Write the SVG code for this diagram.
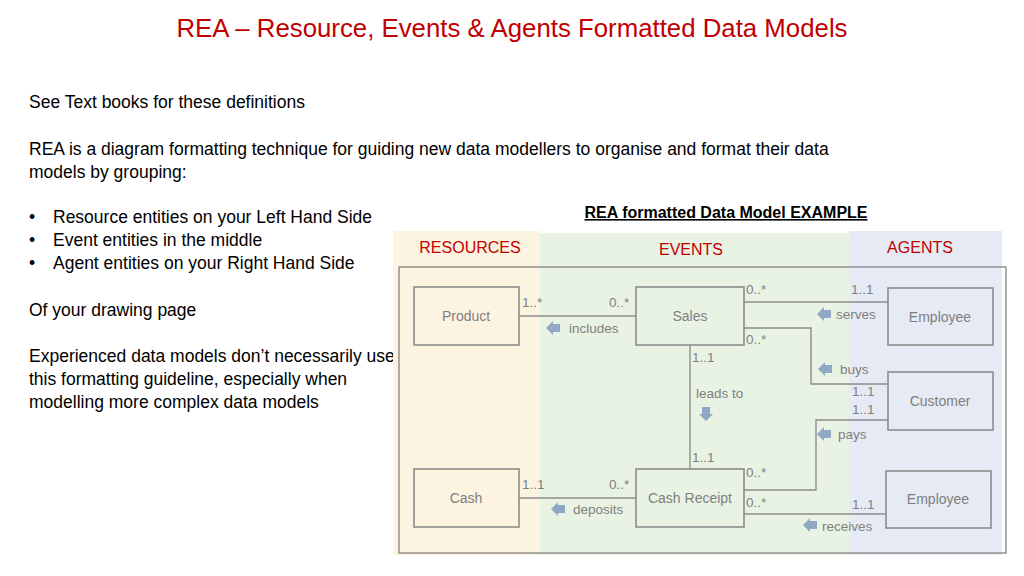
<svg xmlns="http://www.w3.org/2000/svg" width="1024" height="576" viewBox="0 0 1024 576">
<style>
.t{font-family:"Liberation Sans",Arial,sans-serif;font-size:17.5px;fill:#000}
.h{font-family:"Liberation Sans",Arial,sans-serif;font-size:16px;fill:#c00000;text-anchor:middle}
.box{fill:none;stroke:#8c8c8c;stroke-width:1.6}
.n{font-family:"Liberation Sans",Arial,sans-serif;font-size:14px;fill:#7f7f7f;text-anchor:middle}
.l{font-family:"Liberation Sans",Arial,sans-serif;font-size:13.5px;fill:#7f7f7f}
.c{fill:none;stroke:#8c8c8c;stroke-width:1.4}
.a{fill:#8fa9c4}
</style>
<defs>
<path id="la" d="M0,0 L7,-7 L7,-4 L14,-4 L14,4 L7,4 L7,7 Z"/>
<path id="da" d="M0,0 L-7,-7 L-4,-7 L-4,-14 L4,-14 L4,-7 L7,-7 Z"/>
</defs>
<rect width="1024" height="576" fill="#fff"/>
<text x="512" y="37" font-family="Liberation Sans,Arial,sans-serif" font-size="25.8" fill="#c00000" text-anchor="middle">REA – Resource, Events &amp; Agents Formatted Data Models</text>
<g>
<text x="29" y="108" class="t">See Text books for these definitions</text>
<text x="29" y="155" class="t">REA is a diagram formatting technique for guiding new data modellers to organise and format their data</text>
<text x="29" y="178" class="t">models by grouping:</text>
<text x="29" y="223" class="t">•</text><text x="53" y="223" class="t">Resource entities on your Left Hand Side</text>
<text x="29" y="246" class="t">•</text><text x="53" y="246" class="t">Event entities in the middle</text>
<text x="29" y="269" class="t">•</text><text x="53" y="269" class="t">Agent entities on your Right Hand Side</text>
<text x="29" y="316" class="t">Of your drawing page</text>
<text x="29" y="362" class="t">Experienced data models don’t necessarily use</text>
<text x="29" y="385" class="t">this formatting guideline, especially when</text>
<text x="29" y="408" class="t">modelling more complex data models</text>
</g>
<text x="726" y="218" font-family="Liberation Sans,Arial,sans-serif" font-size="16" font-weight="bold" text-anchor="middle" text-decoration="underline">REA formatted Data Model EXAMPLE </text>
<g id="bands">
<rect x="393" y="231" width="147" height="324" fill="#fdf3e1"/>
<rect x="540" y="233" width="309" height="322" fill="#e9f3e4"/>
<rect x="849" y="231" width="153" height="324" fill="#e6eaf4"/>
<rect x="399" y="267" width="607" height="286" fill="none" stroke="#7a7a7a" stroke-width="1.2"/>
<text x="470" y="253" class="h">RESOURCES</text>
<text x="691" y="255" class="h">EVENTS</text>
<text x="920" y="253" class="h">AGENTS</text>
</g>
<g id="connectors">
<path class="c" d="M519,316 H636"/>
<path class="c" d="M744,302 H888"/>
<path class="c" d="M744,328 H811 V384 H888"/>
<path class="c" d="M690,345 V469"/>
<path class="c" d="M888,420 H816 V490 H744"/>
<path class="c" d="M744,514 H886"/>
<path class="c" d="M519,498 H636"/>
<use href="#la" class="a" x="546" y="328"/>
<use href="#la" class="a" x="817" y="314"/>
<use href="#la" class="a" x="818" y="369"/>
<use href="#la" class="a" x="817" y="434"/>
<use href="#la" class="a" x="551" y="509"/>
<use href="#la" class="a" x="803" y="525"/>
<use href="#da" class="a" x="706" y="421"/>
<text x="522" y="307" class="l">1..*</text><text x="609" y="307" class="l">0..*</text>
<text x="569" y="333" class="l">includes</text>
<text x="746" y="294" class="l">0..*</text><text x="851" y="294" class="l">1..1</text>
<text x="836" y="319" class="l">serves</text>
<text x="746" y="344" class="l">0..*</text>
<text x="692" y="362" class="l">1..1</text>
<text x="840" y="374" class="l">buys</text>
<text x="852" y="396" class="l">1..1</text><text x="852" y="414" class="l">1..1</text>
<text x="696" y="398" class="l">leads to</text>
<text x="838" y="439" class="l">pays</text>
<text x="692" y="462" class="l">1..1</text>
<text x="746" y="477" class="l">0..*</text>
<text x="522" y="489" class="l">1..1</text><text x="609" y="489" class="l">0..*</text>
<text x="573" y="514" class="l">deposits</text>
<text x="746" y="507" class="l">0..*</text><text x="852" y="509" class="l">1..1</text>
<text x="822" y="531" class="l">receives</text>
</g>
<g id="product"><rect class="box" x="414" y="287" width="105" height="58"/><text x="466" y="321" class="n">Product</text></g>
<g id="sales"><rect class="box" x="636" y="287" width="108" height="58"/><text x="690" y="321" class="n">Sales</text></g>
<g id="employee1"><rect class="box" x="888" y="288" width="105" height="57"/><text x="940" y="322" class="n">Employee</text></g>
<g id="customer"><rect class="box" x="888" y="372" width="105" height="58"/><text x="940" y="406" class="n">Customer</text></g>
<g id="cash"><rect class="box" x="414" y="469" width="105" height="58"/><text x="466" y="503" class="n">Cash</text></g>
<g id="cashreceipt"><rect class="box" x="636" y="469" width="108" height="58"/><text x="690" y="503" class="n">Cash Receipt</text></g>
<g id="employee2"><rect class="box" x="886" y="471" width="105" height="57"/><text x="938" y="504" class="n">Employee</text></g>
</svg>
